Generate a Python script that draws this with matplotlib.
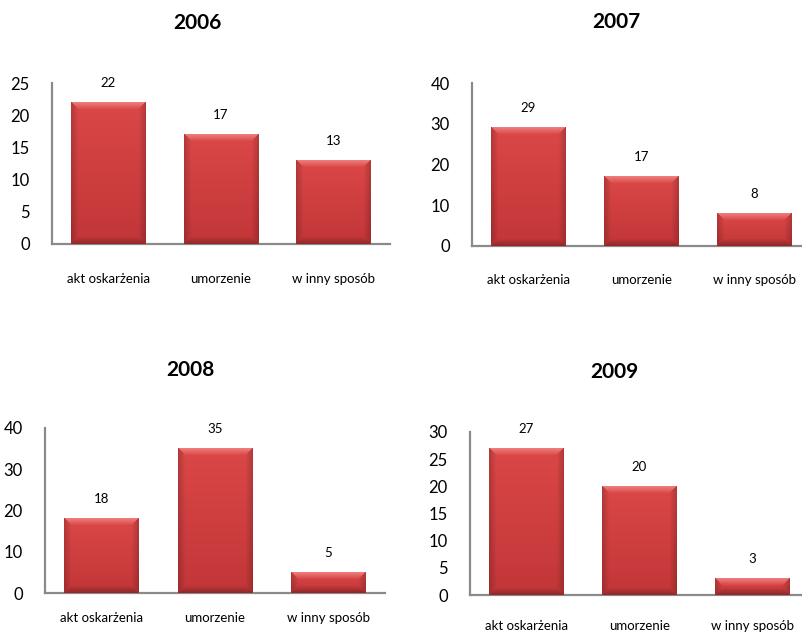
import matplotlib.pyplot as plt
import numpy as np

plt.rcParams['font.family'] = ['Lato', 'DejaVu Sans']

kategorie = ['akt oskarżenia', 'umorzenie', 'w inny sposób']
lata = ['2006', '2007', '2008', '2009']
wartosci_2006 = [22, 17, 13]
wartosci_2007 = [29, 17, 8]
wartosci_2008 = [18, 35, 5]
wartosci_2009 = [27, 20, 3]
wartosci = [wartosci_2006, wartosci_2007, wartosci_2008, wartosci_2009]
y_max = [25, 40, 40, 30]
y_krok = [5, 10, 10, 5]

W, H = 803, 633
# pixel layout: left, top, right, bottom of plot area, title x, title y, x label pad
uklad = [
    (52, 83, 390, 244, 197, 23, 21),
    (472, 83, 811, 246, 616, 22, 20),
    (45, 428, 385, 593, 190, 370, 14),
    (470, 432, 809, 595, 614, 372, 18),
]


def bevel(w, h, b=7):
    # excel-like bevelled red bar as an rgb image (w, h in pixels)
    w = max(int(round(w)), 2)
    h = max(int(round(h)), 2)
    xs = np.arange(w)[None, :].repeat(h, 0).astype(float)
    ys = np.arange(h)[:, None].repeat(w, 1).astype(float)
    dl, dr = xs, w - 1 - xs
    dt, db = ys, h - 1 - ys
    top_c = np.array([0.86, 0.28, 0.28])
    bot_c = np.array([0.76, 0.21, 0.22])
    t = (ys / (h - 1))[..., None]
    img = top_c * (1 - t) + bot_c * t
    m = np.minimum(np.minimum(dl, dr), np.minimum(dt, db))
    edge = m < b
    side = edge & (np.minimum(dl, dr) <= np.minimum(dt, db))
    topf = edge & (dt < np.minimum(dl, dr)) & (dt <= db)
    botf = edge & (db < np.minimum(dl, dr)) & (db < dt)
    k = (1 - m / b)[..., None]
    img = np.where(side[..., None], img * (1 - 0.18 * k), img)
    img = np.where(topf[..., None], img + (np.array([0.96, 0.55, 0.55]) - img) * 0.75 * k, img)
    img = np.where(botf[..., None], img * (1 - 0.25 * k), img)
    return np.clip(img, 0, 1)


fig = plt.figure(figsize=(W / 100, H / 100), dpi=100)

for i in range(4):
    l, t, r, b, tx, ty, pad = uklad[i]
    ax = fig.add_axes([l / W, 1 - b / H, (r - l) / W, (b - t) / H])
    x = np.arange(len(kategorie))
    bars = ax.bar(x, wartosci[i], width=0.66, color='#C83537', zorder=2)
    ax.set_xlim(-0.5, len(kategorie) - 0.5)
    ax.set_ylim(0, y_max[i])

    # bevel shading drawn over each bar
    px_per_x = (r - l) / len(kategorie)
    px_per_y = (b - t) / y_max[i]
    for p in bars.patches:
        img = bevel(p.get_width() * px_per_x, p.get_height() * px_per_y)
        ax.imshow(img, extent=(p.get_x(), p.get_x() + p.get_width(), 0, p.get_height()),
                  aspect='auto', zorder=3, interpolation='bilinear')
    ax.set_xlim(-0.5, len(kategorie) - 0.5)
    ax.set_ylim(0, y_max[i])

    for xi, v in zip(x, wartosci[i]):
        ax.annotate(str(v), (xi, v), xytext=(0, 14), textcoords='offset points',
                    ha='center', va='center', fontsize=9.5)

    ax.set_yticks(np.arange(0, y_max[i] + 1, y_krok[i]))
    ax.tick_params(axis='y', length=0, pad=16, labelsize=12)
    ax.set_xticks(x)
    ax.set_xticklabels(kategorie)
    ax.tick_params(axis='x', length=0, pad=pad, labelsize=9.5)

    for s in ['top', 'right']:
        ax.spines[s].set_visible(False)
    for s in ['left', 'bottom']:
        ax.spines[s].set_color('#8a8a8a')
        ax.spines[s].set_linewidth(1.6)
    ax.patch.set_alpha(0)

    fig.text(tx / W, 1 - ty / H, lata[i], ha='center', va='center',
             fontsize=15, fontweight='bold')

fig.savefig('out.png', dpi=100)
